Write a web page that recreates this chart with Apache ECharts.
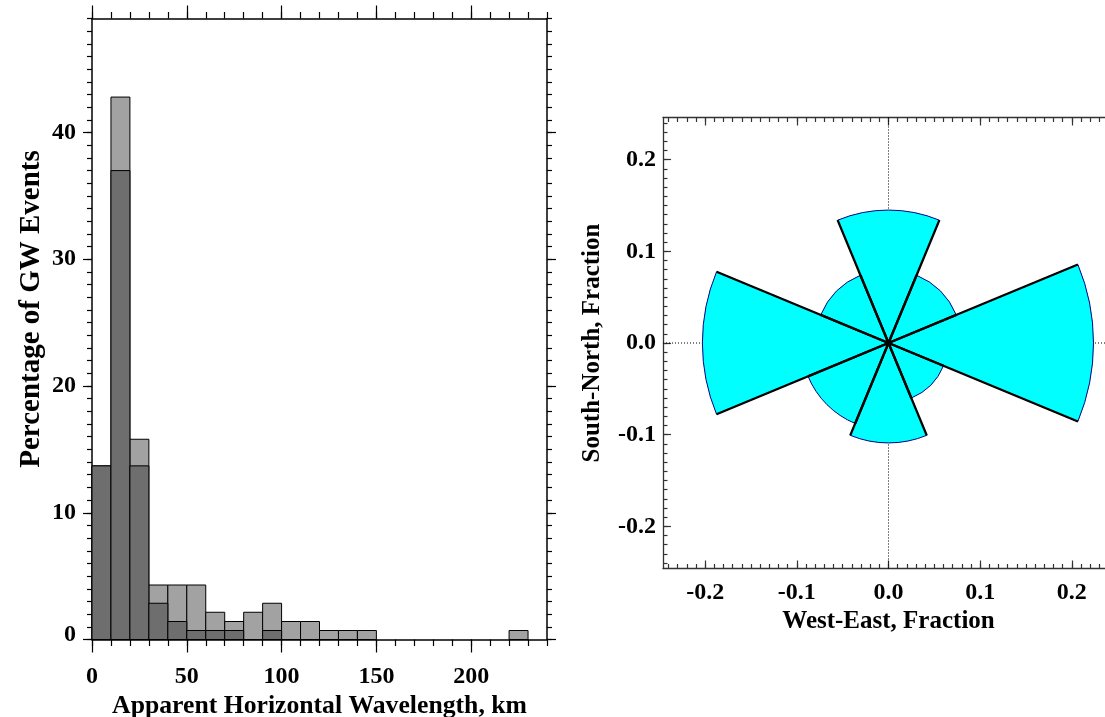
<!DOCTYPE html>
<html>
<head>
<meta charset="utf-8">
<script src="https://cdn.jsdelivr.net/npm/echarts@6/dist/echarts.min.js"></script>
<style>
  html, body { margin: 0; padding: 0; background: #ffffff; }
  #chart { width: 1105px; height: 717px; }
</style>
</head>
<body>
<div id="chart"></div>
<script>
// ---- Histogram: apparent horizontal wavelength, 10 km bins (percent of events) ----
const binStarts = [0, 10, 20, 30, 40, 50, 60, 70, 80, 90, 100, 110,
                   120, 130, 140, 150, 160, 170, 180, 190, 200, 210, 220, 230];
const binWidth = 10;
const allEventsPct = [13.7, 42.8, 15.8, 4.3, 4.3, 4.3, 2.15, 1.42, 2.15, 2.86, 1.42, 1.42,
                      0.71, 0.71, 0.71, 0, 0, 0, 0, 0, 0, 0, 0.71, 0];
const subsetPct    = [13.7, 37.0, 13.7, 2.86, 1.42, 0.71, 0.71, 0.71, 0, 0.71, 0, 0,
                      0, 0, 0, 0, 0, 0, 0, 0, 0, 0, 0, 0];
const histXMax = 240;
const histYMax = 49;
const histXTicks = [0, 50, 100, 150, 200];
const histYTicks = [0, 10, 20, 30, 40];

// ---- Rose diagram: fraction of events per 45-degree propagation sector ----
// direction = sector centre, degrees counter-clockwise from east
const roseDirections = [0, 45, 90, 135, 180, 225, 270, 315];
const roseFractions  = [0.2236, 0.080, 0.145, 0.080, 0.203, 0.095, 0.109, 0.065];
const roseSectorWidth = 45;
const roseTicks = [-0.2, -0.1, 0.0, 0.1, 0.2];

const roseLimit = 1.1 * Math.max(...roseFractions);

function steps(from, to, step, scale) {
  const out = [];
  for (let v = from; v <= to + 1e-9; v += step) out.push(Math.round(v * scale) / scale);
  return out;
}
const histXMinor = steps(0, histXMax, 10, 1);
const histYMinor = steps(0, histYMax, 1, 1);
const roseMinor = steps(-0.24, 0.24, 0.01, 1000);

const FONT = 'Liberation Serif';
const labelStyle = { fontFamily: FONT, fontWeight: 'bold', fontSize: 24, color: '#000' };
const nameStyle = { fontFamily: FONT, fontWeight: 'bold', fontSize: 25, color: '#000' };

function tickAxis(opt) {
  // one axis carrying either major ticks (+labels) or minor ticks
  const a = {
    type: 'value', gridIndex: opt.grid, position: opt.position,
    min: opt.min, max: opt.max,
    splitLine: { show: false },
    axisLine: { show: !!opt.line, onZero: false,
                lineStyle: { color: opt.lineColor || '#000', width: opt.lineWidth || 1.5 } },
    axisTick: { show: true, inside: !!opt.inside, length: opt.len,
                customValues: opt.ticks,
                lineStyle: { color: opt.lineColor || '#000', width: 1.2 } },
    axisLabel: { show: !!opt.labels },
    animation: false
  };
  if (opt.labels) {
    a.axisLabel = Object.assign({ show: true, customValues: opt.ticks, margin: opt.margin },
                                labelStyle, opt.labelExtra || {});
  }
  if (opt.name) {
    a.name = opt.name;
    a.nameLocation = 'middle';
    a.nameGap = opt.nameGap;
    a.nameRotate = opt.nameRotate;
    a.nameTextStyle = Object.assign({}, nameStyle, opt.nameExtra || {});
  }
  return a;
}

const xAxes = [
  // left panel
  tickAxis({ grid: 0, position: 'bottom', min: 0, max: histXMax, ticks: histXTicks, len: 13, line: true,
             labels: true, margin: 25, name: 'Apparent Horizontal Wavelength, km', nameGap: 54,
             nameExtra: { fontSize: 25.7 } }),
  tickAxis({ grid: 0, position: 'bottom', min: 0, max: histXMax, ticks: histXMinor, len: 6.5 }),
  tickAxis({ grid: 0, position: 'top', min: 0, max: histXMax, ticks: histXTicks, len: 13, line: true }),
  tickAxis({ grid: 0, position: 'top', min: 0, max: histXMax, ticks: histXMinor, len: 6.5 }),
  // right panel
  tickAxis({ grid: 1, position: 'bottom', min: -roseLimit, max: roseLimit, ticks: roseTicks, len: 8,
             inside: true, line: true, lineColor: '#333', lineWidth: 1.3, labels: true, margin: 12,
             labelExtra: { formatter: v => v.toFixed(1) },
             name: 'West-East, Fraction', nameGap: 37 }),
  tickAxis({ grid: 1, position: 'bottom', min: -roseLimit, max: roseLimit, ticks: roseMinor, len: 4.5,
             inside: true, lineColor: '#333' }),
  tickAxis({ grid: 1, position: 'top', min: -roseLimit, max: roseLimit, ticks: roseTicks, len: 8,
             inside: true, line: true, lineColor: '#333', lineWidth: 1.3 }),
  tickAxis({ grid: 1, position: 'top', min: -roseLimit, max: roseLimit, ticks: roseMinor, len: 4.5,
             inside: true, lineColor: '#333' })
];

const yAxes = [
  tickAxis({ grid: 0, position: 'left', min: 0, max: histYMax, ticks: histYTicks, len: 9, line: true,
             labels: true, margin: 16,
             labelExtra: {
               formatter: v => (v === 0 ? '{z|0}' : String(v)),
               rich: { z: Object.assign({ padding: [0, 0, 10, 0] }, labelStyle) }
             },
             name: 'Percentage of GW Events', nameGap: 46, nameRotate: 90,
             nameExtra: { fontSize: 29, padding: [0, 0, 0, 40] } }),
  tickAxis({ grid: 0, position: 'left', min: 0, max: histYMax, ticks: histYMinor, len: 5 }),
  tickAxis({ grid: 0, position: 'right', min: 0, max: histYMax, ticks: histYTicks, len: 9, line: true }),
  tickAxis({ grid: 0, position: 'right', min: 0, max: histYMax, ticks: histYMinor, len: 5 }),
  tickAxis({ grid: 1, position: 'left', min: -roseLimit, max: roseLimit, ticks: roseTicks, len: 8,
             inside: true, line: true, lineColor: '#333', lineWidth: 1.3, labels: true, margin: 7,
             labelExtra: { formatter: v => v.toFixed(1) },
             name: 'South-North, Fraction', nameGap: 58, nameRotate: 90 }),
  tickAxis({ grid: 1, position: 'left', min: -roseLimit, max: roseLimit, ticks: roseMinor, len: 4.5,
             inside: true, lineColor: '#333' }),
  tickAxis({ grid: 1, position: 'right', min: -roseLimit, max: roseLimit, ticks: roseTicks, len: 8,
             inside: true, line: true, lineColor: '#333', lineWidth: 1.3 }),
  tickAxis({ grid: 1, position: 'right', min: -roseLimit, max: roseLimit, ticks: roseMinor, len: 4.5,
             inside: true, lineColor: '#333' })
];

function histSeries(name, values, color, z) {
  return {
    name, type: 'custom', xAxisIndex: 0, yAxisIndex: 0, z,
    data: binStarts.map((s, i) => [s, s + binWidth, values[i]]),
    encode: { x: [0, 1], y: 2 },
    renderItem: (params, api) => {
      const h = api.value(2);
      if (!(h > 0)) return null;
      const p0 = api.coord([api.value(0), 0]);
      const p1 = api.coord([api.value(1), h]);
      return {
        type: 'rect',
        shape: { x: p0[0], y: p1[1], width: p1[0] - p0[0], height: p0[1] - p1[1] },
        style: { fill: color, stroke: '#000', lineWidth: 1 }
      };
    }
  };
}

function zeroLine(points) {
  return {
    type: 'line', xAxisIndex: 4, yAxisIndex: 4, z: 1, silent: true,
    data: points, symbol: 'none',
    lineStyle: { color: '#000', width: 1, type: [1, 2] }
  };
}

const roseSeries = {
  name: 'rose', type: 'custom', xAxisIndex: 4, yAxisIndex: 4, z: 3,
  data: roseDirections.map((d, i) => [d, roseFractions[i]]),
  encode: { x: -1, y: -1 },
  renderItem: (params, api) => {
    const dir = api.value(0);
    const frac = api.value(1);
    const a1 = (dir - roseSectorWidth / 2) * Math.PI / 180;
    const a2 = (dir + roseSectorWidth / 2) * Math.PI / 180;
    const c = api.coord([0, 0]);
    const r = api.size([frac, 0])[0];
    const e1 = api.coord([frac * Math.cos(a1), frac * Math.sin(a1)]);
    const e2 = api.coord([frac * Math.cos(a2), frac * Math.sin(a2)]);
    return {
      type: 'group',
      children: [
        { type: 'sector', z2: 0,
          shape: { cx: c[0], cy: c[1], r: r, r0: 0, startAngle: -a2, endAngle: -a1, clockwise: true },
          style: { fill: '#00ffff', stroke: '#00007f', lineWidth: 1 } },
        { type: 'line', z2: 10,
          shape: { x1: c[0], y1: c[1], x2: e1[0], y2: e1[1] },
          style: { stroke: '#000', lineWidth: 2.3 } },
        { type: 'line', z2: 10,
          shape: { x1: c[0], y1: c[1], x2: e2[0], y2: e2[1] },
          style: { stroke: '#000', lineWidth: 2.3 } }
      ]
    };
  }
};

const chart = echarts.init(document.getElementById('chart'), null, { renderer: 'canvas' });
chart.setOption({
  animation: false,
  backgroundColor: '#ffffff',
  textStyle: { fontFamily: FONT },
  grid: [
    { left: 92, top: 18.5, width: 455, height: 621, outerBoundsMode: 'none', containLabel: false },
    { left: 663, top: 117.5, width: 451, height: 451, outerBoundsMode: 'none', containLabel: false }
  ],
  xAxis: xAxes,
  yAxis: yAxes,
  series: [
    histSeries('All events', allEventsPct, '#a2a2a2', 2),
    histSeries('Subset', subsetPct, '#6e6e6e', 3),
    zeroLine([[0, -roseLimit], [0, roseLimit]]),
    zeroLine([[-roseLimit, 0], [roseLimit, 0]]),
    roseSeries
  ]
});
</script>
</body>
</html>
